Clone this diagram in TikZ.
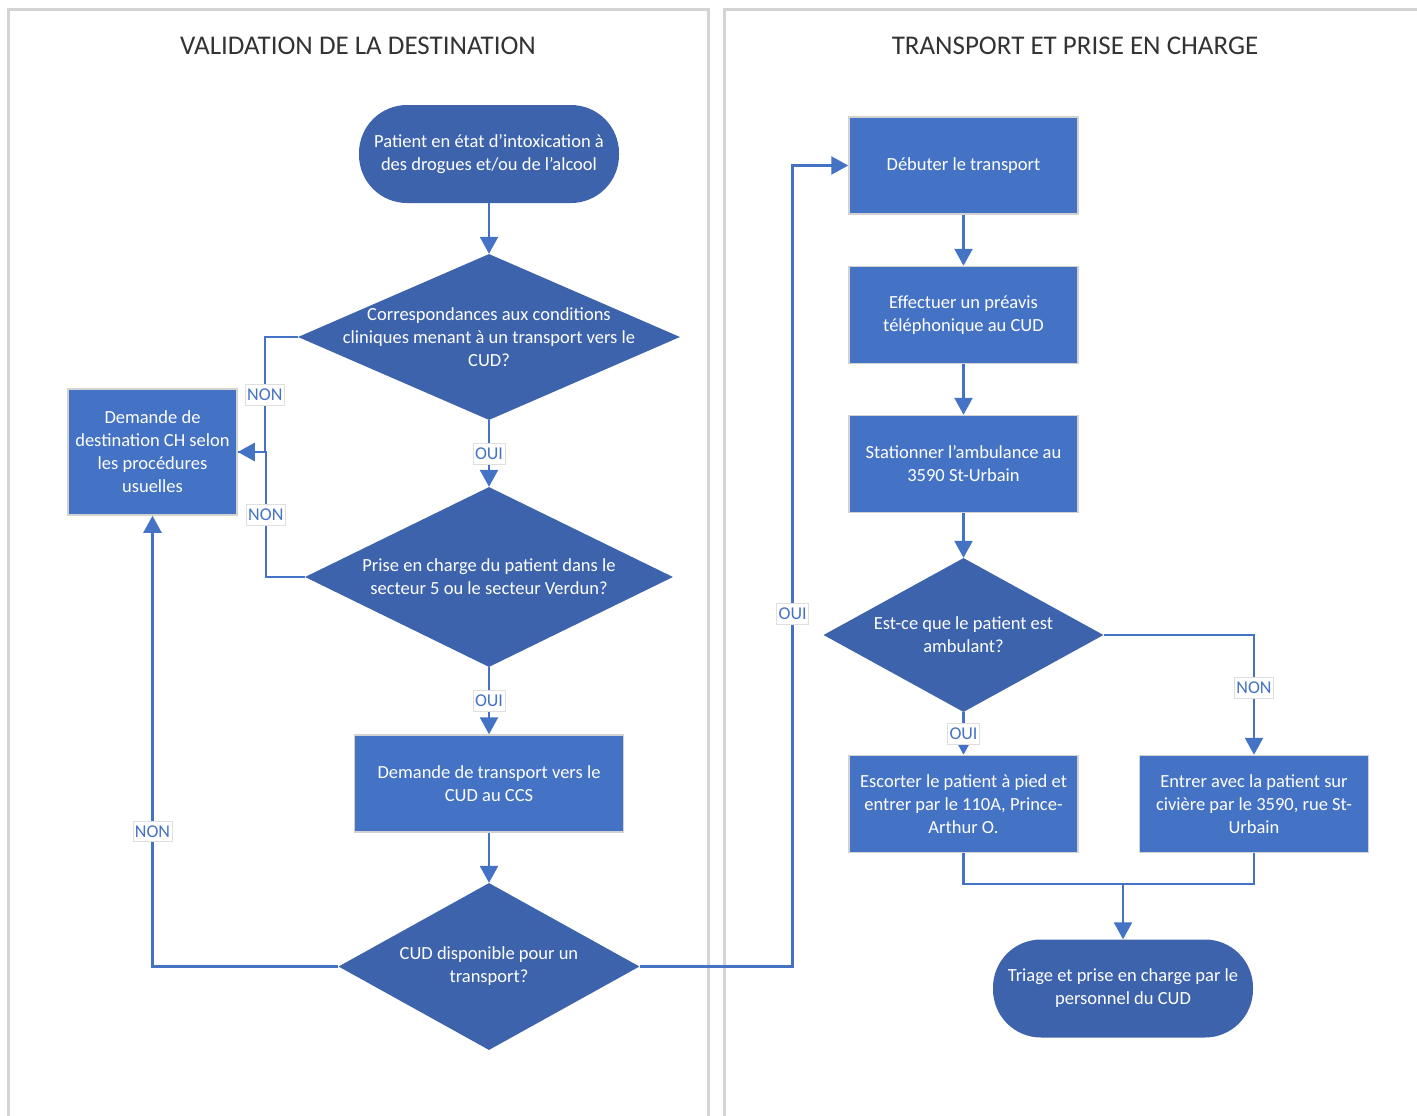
\documentclass[tikz,border=0pt]{standalone}
\usepackage{fontspec}
\setmainfont{Carlito}
\usetikzlibrary{shapes.geometric,arrows.meta}
\definecolor{boxblue}{HTML}{4472C4}
\definecolor{decblue}{HTML}{3D63AC}
\definecolor{lanegray}{HTML}{D4D4D4}
\definecolor{titlegray}{HTML}{333333}

\begin{document}
\begin{tikzpicture}[x=1pt,y=-1pt,
    lane/.style={draw=lanegray,line width=2.5pt},
    lanetitle/.style={text=titlegray,font=\fontsize{27}{32}\selectfont},
    procbox/.style={draw=gray!35,line width=1.5pt,fill=boxblue,text=white,align=center,
        font=\fontsize{18.5}{23}\selectfont,minimum width=229pt,minimum height=97pt,inner sep=0pt},
    termbox/.style={fill=decblue,text=white,align=center,font=\fontsize{18.5}{23}\selectfont,
        minimum width=260pt,minimum height=98pt,rounded corners=48pt,inner sep=0pt},
    decision/.style={diamond,fill=decblue,inner sep=0pt},
    dtext/.style={text=white,align=center,font=\fontsize{18.5}{23}\selectfont},
    flow/.style={draw=boxblue,line width=2.5pt,-{Triangle[width=18pt,length=17pt]}},
    flowline/.style={draw=boxblue,line width=2.5pt},
    lbl/.style={fill=white,draw=gray!25,line width=0.6pt,text=boxblue,
        font=\fontsize{18}{21}\selectfont,inner xsep=2pt,inner ysep=4.5pt}]
    \useasboundingbox (0,0) rectangle (1417,1116);
    \clip (0,0) rectangle (1417,1116);
    \draw[lane] (8.5,9.5) rectangle (708.5,1140);
    \draw[lane] (724.5,9.5) rectangle (1440,1140);
    \node[lanetitle] (title1) at (358,46) {VALIDATION DE LA DESTINATION};
    \node[lanetitle] (title2) at (1075,46) {TRANSPORT ET PRISE EN CHARGE};

    \node[termbox] (start) at (489,154) {Patient en état d'intoxication à\\des drogues et/ou de l'alcool};
    \node[decision,minimum width=382pt,minimum height=166pt,
        label={[dtext]center:{Correspondances aux conditions\\cliniques menant à un transport vers le\\CUD?}}] (d1) at (489,337) {};
    \node[procbox,minimum width=169pt,minimum height=126pt] (usual) at (152.5,452) {Demande de\\destination CH selon\\les procédures\\usuelles};
    \node[decision,minimum width=368pt,minimum height=180pt,
        label={[dtext]center:{Prise en charge du patient dans le\\secteur 5 ou le secteur Verdun?}}] (d2) at (489,577) {};
    \node[procbox,minimum width=269pt] (ccs) at (489,783.5) {Demande de transport vers le\\CUD au CCS};
    \node[decision,minimum width=301pt,minimum height=167pt,
        label={[dtext]center:{CUD disponible pour un\\transport?}}] (d3) at (489,966.5) {};

    \node[procbox] (depart) at (963.5,165.5) {Débuter le transport};
    \node[procbox] (notice) at (963.5,315) {Effectuer un préavis\\téléphonique au CUD};
    \node[procbox] (park) at (963.5,464) {Stationner l'ambulance au\\3590 St-Urbain};
    \node[decision,minimum width=280pt,minimum height=154pt,
        label={[dtext]center:{Est-ce que le patient est\\ambulant?}}] (d4) at (963.5,635) {};
    \node[procbox] (walk) at (963.5,804) {Escorter le patient à pied et\\entrer par le 110A, Prince-\\Arthur O.};
    \node[procbox] (stretcher) at (1254,804) {Entrer avec la patient sur\\civière par le 3590, rue St-\\Urbain};
    \node[termbox] (triage) at (1123,988.5) {Triage et prise en charge par le\\personnel du CUD};
    \coordinate (merge) at (1123,884);

    \draw[flow] (start) -- (d1);
    \draw[flow] (d1) -- node[lbl]{OUI} (d2);
    \draw[flow] (d1.west) -- ++(-33,0) |- node[lbl,pos=0.25]{NON} (usual.east);
    \draw[flowline] (d2.west) -- ++(-39,0) |- node[lbl,pos=0.25]{NON} (usual.east);
    \draw[flow] (d2) -- node[lbl]{OUI} (ccs);
    \draw[flow] (ccs) -- (d3);
    \draw[flow] (d3.west) -| node[lbl,pos=0.65]{NON} (usual.south);
    \draw[flow] (d3.east) -- ++(153,0) |- node[lbl,pos=0.22]{OUI} (depart.west);
    \draw[flow] (depart) -- (notice);
    \draw[flow] (notice) -- (park);
    \draw[flow] (park) -- (d4);
    \draw[flow] (d4) -- node[lbl]{OUI} (walk);
    \draw[flow] (d4.east) -| node[lbl,pos=0.72]{NON} (stretcher.north);
    \draw[flowline] (walk.south) |- (merge) -| (stretcher.south);
    \draw[flow] (merge) -- (triage);
\end{tikzpicture}
\end{document}
